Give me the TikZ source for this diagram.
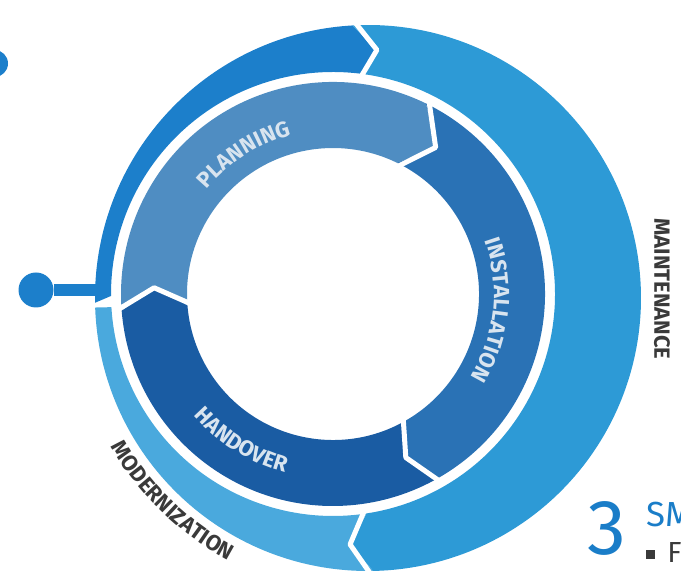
\documentclass[tikz,border=0pt]{standalone}
\usepackage{fontspec}
\setmainfont{Fira Sans}
\usepackage{tikz}
\usetikzlibrary{calc,decorations.text}
\definecolor{upblue}{HTML}{1C7FCB}
\definecolor{maintblue}{HTML}{2D9AD6}
\definecolor{modblue}{HTML}{4AA9DD}
\definecolor{planblue}{HTML}{4F8DC2}
\definecolor{instblue}{HTML}{2A72B5}
\definecolor{handblue}{HTML}{1A5CA3}
\definecolor{ringtext}{HTML}{D8E4EF}
\definecolor{labelgray}{HTML}{3A3A3A}
\definecolor{headblue}{HTML}{1A7DC8}
\newcommand\ringfmt{\bfseries\fontsize{11}{11}\selectfont}

\begin{document}
\begin{tikzpicture}[x=0.5pt, y=0.5pt,
    gapline/.style={white, line width=2.5pt, line join=round},
    ringlabel/.style={decorate, decoration={text along path, text align=center,
        text={|\color{ringtext}\ringfmt|#1}}},
    outlabel/.style={decorate, decoration={text along path, text align=center,
        text={|\color{labelgray}\ringfmt|#1}}}]
    \useasboundingbox (0,0) rectangle (681,579);
    \clip (0,0) rectangle (681,579);
    \coordinate (C1) at (333,285);
    \coordinate (C2) at (368,281);

    \fill[planblue, shift={(C1)}] (184.5:212) -- (178:179) -- (184.5:146)
        arc[start angle=184.5, end angle=64, radius=146] -- (55:179) -- (64:212)
        arc[start angle=64, end angle=184.5, radius=212] -- cycle;
    \fill[instblue, shift={(C1)}] (64:212) -- (55:179) -- (64:146)
        arc[start angle=64, end angle=-60, radius=146] -- (-66:179) -- (-60:212)
        arc[start angle=-60, end angle=64, radius=212] -- cycle;
    \fill[handblue, shift={(C1)}] (-60:212) -- (-66:179) -- (-60:146)
        arc[start angle=-60, end angle=-175.5, radius=146] -- (-182:179) -- (-175.5:212)
        arc[start angle=-175.5, end angle=-60, radius=212] -- cycle;
    \draw[gapline, shift={(C1)}] (184.5:140) -- (178:179) -- (184.5:218);
    \draw[gapline, shift={(C1)}] (64:140) -- (55:179) -- (64:218);
    \draw[gapline, shift={(C1)}] (-60:140) -- (-66:179) -- (-60:218);

    \fill[upblue] ($(C1)+(180.5:222)$) -- ($(C2)+(181:273)$)
        arc[start angle=181, end angle=93.3, radius=273] -- ($(C1)+(79.8:248)$)
        -- ($(C1)+(83:222)$) arc[start angle=83, end angle=180.5, radius=222] -- cycle;
    \fill[maintblue] ($(C1)+(83:222)$) -- ($(C1)+(79.8:248)$) -- ($(C2)+(93.3:273)$)
        arc[start angle=93.3, end angle=-88.9, radius=273] -- ($(C1)+(-86.1:251)$)
        -- ($(C1)+(-81.3:222)$) arc[start angle=-81.3, end angle=83, radius=222] -- cycle;
    \fill[modblue] ($(C1)+(-81.3:222)$) -- ($(C1)+(-86.1:251)$) -- ($(C2)+(-88.9:273)$)
        arc[start angle=-88.9, end angle=-178, radius=273] -- ($(C1)+(-176.6:222)$)
        arc[start angle=-176.6, end angle=-81.3, radius=222] -- cycle;
    \draw[gapline] ($(C1)+(83:216)$) -- ($(C1)+(79.8:248)$) -- ($(C2)+(93.3:280)$);
    \draw[gapline] ($(C1)+(-81.3:216)$) -- ($(C1)+(-86.1:251)$) -- ($(C2)+(-88.9:280)$);

    \node[circle, fill=upblue, inner sep=0pt, minimum size=17.5pt] (dot) at (36,289) {};
    \coordinate (jn) at (104,289);
    \draw[upblue, line width=6pt] (dot) -- (jn);
    \fill[upblue] (-5.5,515.5) circle[radius=13.5];

    \path[ringlabel=PLANNING] ($(C1)+(160:164)$) arc[start angle=160, end angle=85, radius=164];
    \path[ringlabel=INSTALLATION] ($(C1)+(40:161)$) arc[start angle=40, end angle=-52, radius=161];
    \path[ringlabel=HANDOVER] ($(C1)+(193:185)$) arc[start angle=193, end angle=283, radius=185];
    \path[outlabel=MODERNIZATION] ($(C2)+(195:297)$) arc[start angle=195, end angle=257, radius=297];
    \node[rotate=-90, text=labelgray, font=\ringfmt] (maint) at (662,290) {MAINTENANCE};

    \node[text=headblue, font=\fontsize{39}{39}\selectfont] (num) at (606.5,51) {3};
    \node[text=headblue, font=\fontsize{17.4}{18}\selectfont, anchor=base west, inner sep=0pt] (head) at (646,52) {SM};
    \fill[labelgray] (646,20) rectangle (655,29);
    \node[text=labelgray, font=\fontsize{14.5}{15}\selectfont, anchor=base west, inner sep=0pt] (item) at (667,16) {F};
\end{tikzpicture}
\end{document}
